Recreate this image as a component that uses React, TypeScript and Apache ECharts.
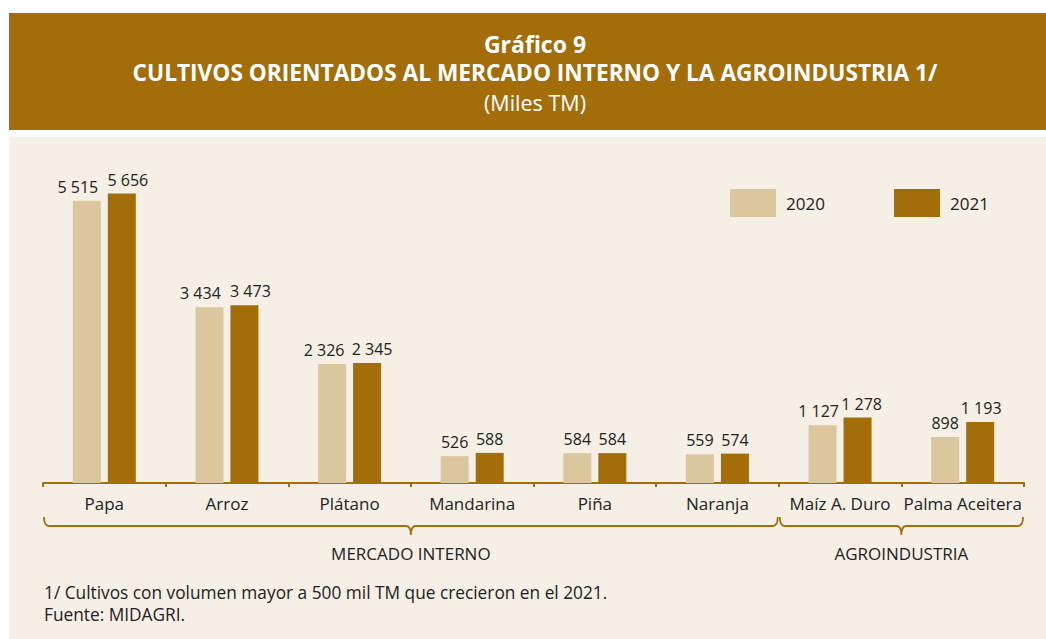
import React, { useEffect, useRef } from "react";
import * as echarts from "echarts";

const categories = ["Papa", "Arroz", "Plátano", "Mandarina", "Piña", "Naranja", "Maíz A. Duro", "Palma Aceitera"];
const values2020 = [5515, 3434, 2326, 526, 584, 559, 1127, 898];
const values2021 = [5656, 3473, 2345, 588, 584, 574, 1278, 1193];
// horizontal nudges of the value labels, as placed in the reference (to avoid overlap)
const labelShift2020 = [-9, -9, -8, 0, 0, 0, -4, 0];
const labelShift2021 = [6, 6, 5, 0, 0, 0, 4, 1];
const seriesNames = ["2020", "2021"];
const groups = [
  { name: "MERCADO INTERNO", from: 0, to: 5 },
  { name: "AGROINDUSTRIA", from: 6, to: 7 },
];
const titleLines = ["Gráfico 9", "CULTIVOS ORIENTADOS AL MERCADO INTERNO Y LA AGROINDUSTRIA 1/", "(Miles TM)"];
const footnotes = ["1/ Cultivos con volumen mayor a 500 mil TM que crecieron en el 2021.", "Fuente: MIDAGRI."];

const BROWN = "#A36E0A";
const LIGHT = "#DCC69E";
const BG = "#F5EFE6";
const TEXT = "#222222";
const FONT = "'Open Sans', 'Noto Sans', sans-serif";

const W = 1046;
const H = 639;
const GRID_LEFT = 43;
const GRID_RIGHT_X = 1024;
const AXIS_Y = 483;
const Y_MAX = 6000;
const GRID_TOP = 176;

const fmt = (v: number) => String(v).replace(/\B(?=(\d{3})+(?!\d))/g, " ");

function bracePath(x1: number, x2: number, y: number) {
  const mid = (x1 + x2) / 2;
  const h = 9;
  const r = 5;
  return (
    `M${x1},${y} Q${x1},${y + h} ${x1 + r},${y + h} ` +
    `L${mid - r},${y + h} Q${mid},${y + h} ${mid},${y + h + h} ` +
    `Q${mid},${y + h} ${mid + r},${y + h} ` +
    `L${x2 - r},${y + h} Q${x2},${y + h} ${x2},${y}`
  );
}

const mkData = (vals: number[], shifts: number[]) =>
  vals.map((v, i) => ({ value: v, label: { offset: [shifts[i], 0] } }));

export default function App() {
  const ref = useRef<HTMLDivElement>(null);
  useEffect(() => {
    if (!ref.current) return;
    const chart = echarts.init(ref.current, undefined, { renderer: "svg" });
    const catW = (GRID_RIGHT_X - GRID_LEFT) / categories.length;

    const braceEls: any[] = [];
    groups.forEach((g, i) => {
      const x1 = GRID_LEFT + g.from * catW + 1;
      const x2 = GRID_LEFT + (g.to + 1) * catW - 1;
      const name = "brace" + i;
      echarts.graphic.registerShape(name, echarts.graphic.extendPath(bracePath(x1, x2, 517), {}) as any);
      braceEls.push({
        type: name,
        x: 0,
        y: 0,
        scaleX: 1,
        scaleY: 1,
        style: { fill: "none", stroke: BROWN, lineWidth: 1.8 },
        z: 10,
      });
      braceEls.push({
        type: "text",
        x: (x1 + x2) / 2,
        y: 553,
        style: { text: g.name, fill: TEXT, font: `17px ${FONT}`, textAlign: "center", textVerticalAlign: "middle" },
        z: 10,
      });
    });

    const labelCfg = { show: true, position: "top", distance: 6, color: TEXT, fontSize: 16, fontFamily: FONT, formatter: (p: any) => fmt(p.value) };

    const option: any = {
      animation: false,
      backgroundColor: "#ffffff",
      textStyle: { fontFamily: FONT },
      graphic: [
        { type: "rect", shape: { x: 9, y: 13, width: W - 9, height: 117 }, style: { fill: BROWN }, z: -10 },
        { type: "rect", shape: { x: 9, y: 137, width: W - 9, height: H - 137 }, style: { fill: BG }, z: -10 },
        {
          type: "text", x: 535, y: 43.5,
          style: { text: titleLines[0], fill: "#ffffff", font: `bold 23px ${FONT}`, lineHeight: 24, textAlign: "center", textVerticalAlign: "middle" },
        },
        {
          type: "text", x: 535, y: 72.5,
          style: { text: titleLines[1], fill: "#ffffff", font: `bold 22.7px ${FONT}`, lineHeight: 23, textAlign: "center", textVerticalAlign: "middle" },
        },
        {
          type: "text", x: 535, y: 102,
          style: { text: titleLines[2], fill: "#ffffff", font: `21.5px ${FONT}`, lineHeight: 22, textAlign: "center", textVerticalAlign: "middle" },
        },
        {
          type: "text", x: 44, y: 592,
          style: { text: footnotes[0], fill: TEXT, font: `17.3px ${FONT}`, lineHeight: 19, textAlign: "left", textVerticalAlign: "middle" },
        },
        {
          type: "text", x: 44, y: 614,
          style: { text: footnotes[1], fill: TEXT, font: `17.3px ${FONT}`, lineHeight: 19, textAlign: "left", textVerticalAlign: "middle" },
        },
        ...braceEls,
      ],
      legend: [
        {
          data: [seriesNames[0]], left: 730, top: 189, padding: 0,
          icon: "rect", itemWidth: 46, itemHeight: 28,
          textStyle: { color: TEXT, fontSize: 17, fontFamily: FONT, padding: [0, 0, 0, 5] },
        },
        {
          data: [seriesNames[1]], left: 894, top: 189, padding: 0,
          icon: "rect", itemWidth: 46, itemHeight: 28,
          textStyle: { color: TEXT, fontSize: 17, fontFamily: FONT, padding: [0, 0, 0, 5] },
        },
      ],
      grid: { left: GRID_LEFT, right: W - GRID_RIGHT_X, top: GRID_TOP, bottom: H - AXIS_Y, containLabel: false },
      xAxis: {
        type: "category",
        data: categories,
        axisLine: { lineStyle: { color: BROWN, width: 2 } },
        axisTick: { show: true, length: 4, lineStyle: { color: BROWN, width: 2 } },
        axisLabel: { color: TEXT, fontSize: 17, fontFamily: FONT, margin: 12, interval: 0 },
      },
      yAxis: {
        type: "value", min: 0, max: Y_MAX, show: false, splitLine: { show: false },
      },
      series: [
        {
          name: seriesNames[0], type: "bar", data: mkData(values2020, labelShift2020), barWidth: 28, barGap: "25%",
          itemStyle: { color: LIGHT },
          label: labelCfg,
        },
        {
          name: seriesNames[1], type: "bar", data: mkData(values2021, labelShift2021), barWidth: 28,
          itemStyle: { color: BROWN },
          label: labelCfg,
        },
      ],
    };
    chart.setOption(option);
    return () => chart.dispose();
  }, []);
  return <div ref={ref} style={{ position: "fixed", left: 0, top: 0, width: W, height: H }} />;
}
